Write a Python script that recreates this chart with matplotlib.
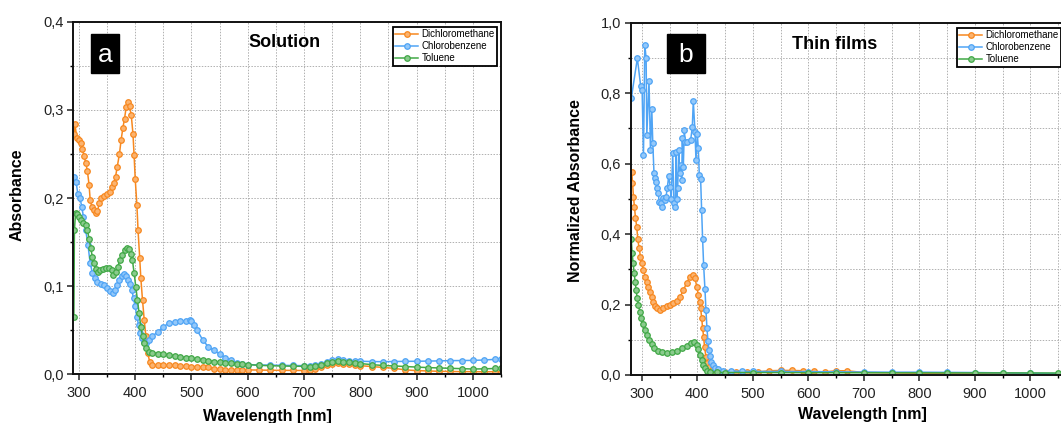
import matplotlib
matplotlib.use("Agg")
import matplotlib.pyplot as plt
from matplotlib.ticker import MultipleLocator, FuncFormatter
from matplotlib.patches import Rectangle

plt.rcParams['font.family'] = ['Liberation Sans', 'DejaVu Sans']

# ---- data: (a) solution ----
sol_dcm_x = [292, 293, 296, 300, 303, 306, 309, 312, 315, 318, 320, 323, 326, 330, 333, 336,
             340, 345, 350, 355, 358, 362, 365, 368, 372, 375, 378, 381, 384, 387, 390, 393,
             396, 398, 400, 403, 405, 408, 410, 413, 416, 419, 422, 426, 430, 440, 450, 460,
             470, 480, 490, 500, 510, 520, 530, 540, 550, 560, 570, 580, 590, 600, 620, 640,
             660, 680, 700, 710, 720, 730, 740, 750, 760, 765, 770, 780, 790, 800, 820, 840,
             860, 880, 900, 920, 940, 960, 980, 1000, 1020, 1040, 1050]
sol_dcm_y = [0.273, 0.284, 0.268, 0.266, 0.262, 0.256, 0.248, 0.240, 0.231, 0.215, 0.198, 0.190,
             0.186, 0.183, 0.185, 0.194, 0.200, 0.202, 0.205, 0.207, 0.212, 0.217, 0.224, 0.235,
             0.250, 0.266, 0.279, 0.290, 0.303, 0.309, 0.304, 0.294, 0.273, 0.249, 0.222, 0.192,
             0.164, 0.132, 0.109, 0.084, 0.062, 0.043, 0.024, 0.014, 0.011, 0.010, 0.010, 0.010,
             0.010, 0.0095, 0.009, 0.0088, 0.0086, 0.0085, 0.0078, 0.0062, 0.0055, 0.0052, 0.0051,
             0.0050, 0.0050, 0.0050, 0.0048, 0.0046, 0.0045, 0.0044, 0.0043, 0.0048, 0.0060,
             0.0085, 0.0105, 0.0118, 0.0130, 0.0135, 0.0122, 0.0112, 0.0105, 0.0098, 0.0088,
             0.0078, 0.0068, 0.0050, 0.0042, 0.0038, 0.0034, 0.0032, 0.0030, 0.0030, 0.0028,
             0.0030, 0.0030]

sol_cb_x = [292, 295, 298, 302, 305, 308, 312, 316, 320, 324, 328, 333, 340, 345, 350, 355, 360,
            364, 368, 372, 376, 380, 384, 388, 391, 394, 397, 400, 403, 406, 409, 412, 416, 420,
            425, 430, 440, 450, 460, 470, 480, 490, 497, 500, 505, 510, 520, 530, 540, 550, 560,
            570, 580, 590, 600, 620, 640, 660, 680, 700, 710, 720, 730, 740, 750, 760, 770, 780,
            790, 800, 820, 840, 860, 880, 900, 920, 940, 960, 980, 1000, 1020, 1040, 1050]
sol_cb_y = [0.224, 0.218, 0.205, 0.200, 0.190, 0.179, 0.164, 0.147, 0.126, 0.115, 0.109, 0.105,
            0.103, 0.101, 0.0975, 0.095, 0.092, 0.0956, 0.101, 0.107, 0.111, 0.114, 0.112, 0.107,
            0.103, 0.0957, 0.086, 0.077, 0.065, 0.056, 0.0465, 0.041, 0.037, 0.036, 0.039, 0.043,
            0.048, 0.054, 0.058, 0.059, 0.060, 0.0605, 0.062, 0.061, 0.056, 0.050, 0.039, 0.031,
            0.027, 0.023, 0.019, 0.016, 0.013, 0.0117, 0.011, 0.0106, 0.0104, 0.0102, 0.0100,
            0.0098, 0.0098, 0.0100, 0.0120, 0.0140, 0.0160, 0.0170, 0.0162, 0.0152, 0.0150, 0.0148,
            0.0145, 0.0143, 0.0145, 0.0147, 0.0148, 0.0150, 0.0152, 0.0155, 0.0156, 0.0158, 0.0162,
            0.0170, 0.0178]

sol_tol_x = [291, 292, 294, 297, 300, 304, 308, 312, 315, 318, 321, 324, 327, 330, 334, 338, 342,
             348, 354, 358, 361, 365, 369, 373, 377, 381, 385, 389, 392, 395, 398, 401, 404, 407,
             410, 413, 416, 420, 425, 430, 440, 450, 460, 470, 480, 490, 500, 510, 520, 530, 540,
             550, 560, 570, 580, 590, 600, 620, 640, 660, 680, 700, 710, 720, 730, 740, 750, 760,
             770, 780, 790, 800, 820, 840, 860, 880, 900, 920, 940, 960, 980, 1000, 1020, 1040, 1050]
sol_tol_y = [0.065, 0.164, 0.183, 0.182, 0.179, 0.175, 0.172, 0.169, 0.164, 0.154, 0.143, 0.133,
             0.126, 0.119, 0.116, 0.118, 0.120, 0.121, 0.121, 0.118, 0.113, 0.116, 0.122, 0.130,
             0.135, 0.141, 0.143, 0.142, 0.137, 0.130, 0.115, 0.0995, 0.084, 0.069, 0.054, 0.043,
             0.035, 0.0295, 0.0257, 0.0246, 0.0235, 0.023, 0.022, 0.021, 0.020, 0.019, 0.0185,
             0.0175, 0.0165, 0.0155, 0.0145, 0.014, 0.013, 0.0125, 0.012, 0.0115, 0.011, 0.0102,
             0.0097, 0.0094, 0.0092, 0.0090, 0.0088, 0.0092, 0.0110, 0.0125, 0.0140, 0.0148,
             0.0145, 0.0135, 0.0128, 0.0122, 0.0110, 0.0100, 0.0095, 0.0088, 0.0082, 0.0076,
             0.0072, 0.0068, 0.0064, 0.0060, 0.0062, 0.0066, 0.0070]

# ---- data: (b) thin films ----
film_dcm_x = [282, 283.2, 285, 286.8, 288.6, 291, 292.8, 295.2, 297.6, 300, 303, 306, 309, 312,
              315, 318, 321, 324, 327, 333, 339, 345, 351, 357, 363, 369, 375, 381, 387, 391.8,
              396, 399, 402, 404, 406, 408, 409.6, 411.4, 413, 415.6, 418, 420.4, 425.7, 434.7,
              450, 470, 490, 510, 530, 550, 570, 590, 610, 630, 650, 670, 700, 750, 800, 850,
              900, 950, 1000, 1050]
film_dcm_y = [0.577, 0.546, 0.506, 0.476, 0.447, 0.419, 0.385, 0.360, 0.336, 0.317, 0.298, 0.279,
              0.265, 0.251, 0.237, 0.222, 0.208, 0.196, 0.189, 0.184, 0.189, 0.196, 0.200, 0.205,
              0.211, 0.222, 0.241, 0.262, 0.279, 0.284, 0.274, 0.251, 0.227, 0.208, 0.189, 0.161,
              0.132, 0.109, 0.080, 0.052, 0.033, 0.022, 0.014, 0.011, 0.009, 0.0085, 0.0085,
              0.009, 0.012, 0.013, 0.013, 0.012, 0.010, 0.009, 0.012, 0.012, 0.007, 0.006, 0.005,
              0.005, 0.004, 0.004, 0.003, 0.003]

film_cb_x = [281, 292, 298, 300.6, 303, 305.4, 307.8, 309, 313, 315.6, 318, 319.8, 322, 324.6,
             325.7, 327.5, 330, 331, 334, 336.5, 339, 341, 343.7, 346, 348.5, 351, 353, 355.7,
             358, 360.5, 361.7, 363, 364.7, 366.5, 368, 370, 371.9, 373, 374.8, 376.6, 378.4,
             382, 388, 391, 392.8, 395.8, 397.6, 400, 401.8, 403.6, 406, 407.8, 409.6, 411.4,
             413.8, 415.6, 417.4, 419.2, 421, 422.8, 425, 427.5, 431.7, 437.7, 446.7, 460, 480,
             500, 550, 600, 650, 700, 750, 800, 850, 900, 950, 1000, 1050]
film_cb_y = [0.785, 0.899, 0.820, 0.809, 0.624, 0.937, 0.899, 0.681, 0.834, 0.639, 0.754, 0.658,
             0.572, 0.558, 0.549, 0.530, 0.517, 0.492, 0.487, 0.478, 0.501, 0.497, 0.506, 0.532,
             0.565, 0.535, 0.499, 0.629, 0.487, 0.478, 0.634, 0.499, 0.530, 0.639, 0.572, 0.596,
             0.553, 0.674, 0.591, 0.695, 0.662, 0.662, 0.667, 0.703, 0.778, 0.691, 0.610, 0.684,
             0.643, 0.568, 0.556, 0.468, 0.385, 0.312, 0.243, 0.184, 0.132, 0.0974, 0.071, 0.054,
             0.038, 0.028, 0.021, 0.016, 0.012, 0.011, 0.0105, 0.010, 0.010, 0.0095, 0.009,
             0.0085, 0.008, 0.008, 0.0075, 0.007, 0.006, 0.005, 0.004]

film_tol_x = [281, 282.6, 284.4, 286.2, 288, 289.8, 291.6, 294, 296.4, 298.8, 301.8, 305.4, 309,
              313, 318, 322.8, 328.7, 336, 345, 354, 363, 372, 381, 388.6, 394, 398.8, 402, 405,
              408, 411, 414, 418, 422.8, 434.7, 450, 500, 550, 600, 650, 700, 750, 800, 850, 900,
              950, 1000, 1050]
film_tol_y = [0.385, 0.345, 0.317, 0.290, 0.265, 0.241, 0.219, 0.200, 0.180, 0.161, 0.145, 0.128,
              0.114, 0.099, 0.087, 0.076, 0.068, 0.064, 0.063, 0.065, 0.069, 0.076, 0.083, 0.090,
              0.093, 0.085, 0.073, 0.057, 0.043, 0.028, 0.019, 0.012, 0.0095, 0.0076, 0.007,
              0.007, 0.0068, 0.0066, 0.0065, 0.0064, 0.0063, 0.0062, 0.0061, 0.006, 0.006, 0.0058,
              0.0056]

labels = ['Dichloromethane', 'Chlorobenzene', 'Toluene']
colors = ['#F7881F', '#4FA4F5', '#41A846']
faces = ['#FBB36F', '#93C8FA', '#8ACB8D']

W, H = 1061, 423
fig = plt.figure(figsize=(W / 100, H / 100), dpi=100)


def px_axes(l, t, r, b):
    return [l / W, 1 - b / H, (r - l) / W, (b - t) / H]


ax1 = fig.add_axes(px_axes(73.3, 21.7, 501, 374.3))
ax2 = fig.add_axes(px_axes(630.7, 22.7, 1063.6, 375))

comma = FuncFormatter(lambda v, p: f"{v:.1f}".replace('.', ','))


def style(ax, xlim, ylim, ymaj, ymin):
    ax.set_xlim(*xlim)
    ax.set_ylim(*ylim)
    ax.xaxis.set_major_locator(MultipleLocator(100))
    ax.xaxis.set_minor_locator(MultipleLocator(50))
    ax.yaxis.set_major_locator(MultipleLocator(ymaj))
    ax.yaxis.set_minor_locator(MultipleLocator(ymin))
    ax.yaxis.set_major_formatter(comma)
    ax.grid(which='both', ls=(0, (1.5, 1.5)), color='#b0b0b0', lw=0.7)
    ax.set_axisbelow(True)
    ax.tick_params(which='major', direction='out', length=4, width=1.1,
                   labelsize=10.5, colors='#222222')
    ax.tick_params(axis='x', which='major', pad=4.5)
    ax.tick_params(axis='y', which='major', pad=3)
    ax.tick_params(which='minor', direction='out', length=2.5, width=1.0)
    for s in ax.spines.values():
        s.set_linewidth(1.4)
        s.set_color('#111111')


def draw(ax, series):
    for (x, y), lab, c, f in zip(series, labels, colors, faces):
        ax.plot(x, y, '-o', color=c, lw=1.1, ms=4, mfc=f, mec=c, mew=0.9, label=lab)


draw(ax1, [(sol_dcm_x, sol_dcm_y), (sol_cb_x, sol_cb_y), (sol_tol_x, sol_tol_y)])
draw(ax2, [(film_dcm_x, film_dcm_y), (film_cb_x, film_cb_y), (film_tol_x, film_tol_y)])

style(ax1, (290, 1050), (0, 0.4), 0.1, 0.05)
style(ax2, (280, 1060), (0, 1.0), 0.2, 0.1)

# axis labels
ax1.set_ylabel('Absorbance', fontsize=11.5, fontweight='bold')
ax1.yaxis.set_label_coords(-0.113, 0.51)
ax1.set_xlabel('Wavelength [nm]', fontsize=11.5, fontweight='bold')
ax1.xaxis.set_label_coords(0.454, -0.097)
ax2.set_ylabel('Normalized Absorbance', fontsize=11.5, fontweight='bold')
ax2.yaxis.set_label_coords(-0.1095, 0.523)
ax2.set_xlabel('Wavelength [nm]', fontsize=11.5, fontweight='bold')
ax2.xaxis.set_label_coords(0.535, -0.092)

# panel titles
ax1.text(0.495, 0.94, 'Solution', transform=ax1.transAxes, ha='center', va='center',
         fontsize=13, fontweight='bold')
ax2.text(0.47, 0.937, 'Thin films', transform=ax2.transAxes, ha='center', va='center',
         fontsize=13, fontweight='bold')

# panel letters
for ax, (x0, x1, y0, y1), letter in [(ax1, (0.0414, 0.1075, 0.855, 0.964), 'a'),
                                     (ax2, (0.0845, 0.1716, 0.858, 0.967), 'b')]:
    ax.add_patch(Rectangle((x0, y0), x1 - x0, y1 - y0, transform=ax.transAxes,
                           facecolor='black', edgecolor='black', zorder=5))
    ax.text((x0 + x1) / 2, (y0 + y1) / 2 - 0.005, letter, transform=ax.transAxes,
            ha='center', va='center', color='white', fontsize=19, zorder=6)

# legends
for ax, anchor in [(ax1, (0.9906, 0.985)), (ax2, (0.994, 0.985))]:
    leg = ax.legend(loc='upper right', bbox_to_anchor=anchor, borderaxespad=0,
                    fontsize=7, handlelength=2.4, handletextpad=0.3, labelspacing=0.2,
                    borderpad=0.25, fancybox=False, framealpha=1, edgecolor='black')
    leg.get_frame().set_linewidth(1.3)

fig.savefig('out.png', dpi=100)
